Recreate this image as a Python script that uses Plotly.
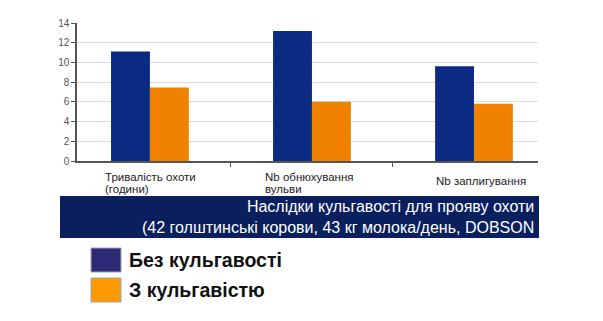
import plotly.graph_objects as go

categories = [["Тривалість охоти", "(години)"], ["Nb обнюхування", "вульви"], ["Nb заплигування"]]
cat_keys = ["c1", "c2", "c3"]
without_lameness = [11.1, 13.2, 9.6]
with_lameness = [7.45, 6.0, 5.8]
series_names = ["Без кульгавості", "З кульгавістю"]
banner_lines = ["Наслідки кульгавості для прояву охоти",
                "(42 голштинські корови, 43 кг молока/день, DOBSON"]
y_ticks = [0, 2, 4, 6, 8, 10, 12, 14]

bar_blue = "#0b2a82"
bar_orange = "#f08200"
leg_blue = "#2b2a74"
leg_orange = "#ff9900"

fig = go.Figure()
fig.add_trace(go.Bar(x=cat_keys, y=without_lameness, name=series_names[0],
                     marker=dict(color=bar_blue, line=dict(width=0))))
fig.add_trace(go.Bar(x=cat_keys, y=with_lameness, name=series_names[1],
                     marker=dict(color=bar_orange, line=dict(width=0))))

W, H = 603, 321
L, R, T, B = 77, 538, 23, 161

fig.update_layout(
    width=W, height=H,
    margin=dict(l=L, r=W - R, t=T, b=H - B),
    paper_bgcolor="white", plot_bgcolor="white",
    barmode="group", bargap=0.52, bargroupgap=0,
    showlegend=False,
    font=dict(family="Liberation Sans, Arial", color="#333"),
    xaxis=dict(showticklabels=False, showline=True, linecolor="#555", linewidth=1.5,
               range=[-0.45, 2.395],
               ticks="outside", tickson="boundaries", ticklen=4, tickcolor="#555",
               showgrid=False, zeroline=False),
    yaxis=dict(range=[0, 14], tickvals=y_ticks, showline=True, linecolor="#555",
               linewidth=1.5, ticks="outside", ticklen=4, tickcolor="#555",
               gridcolor="#dcdcdc", gridwidth=1, zeroline=False,
               tickfont=dict(size=10, color="#555")),
)

def px_x(v):
    return (v - L) / (R - L)

def px_y(v):
    return (B - v) / (B - T)

annotations = []
label_left_offsets = [-47, -49, -40]
label_top = [177, 177, 181]
for k, lines, off, top in zip(cat_keys, categories, label_left_offsets, label_top):
    for j, line in enumerate(lines):
        annotations.append(dict(x=k, xref="x", xshift=off, xanchor="left",
                                y=px_y(top + 11.5 * j), yref="paper", yanchor="middle",
                                text=line, showarrow=False,
                                font=dict(size=11.5, color="#222")))

shapes = []
# banner
shapes.append(dict(type="rect", xref="paper", yref="paper",
                   x0=px_x(60), x1=px_x(539), y0=px_y(238), y1=px_y(196),
                   fillcolor="#0a1f5e", line=dict(width=0), layer="above"))
annotations.append(dict(xref="paper", yref="paper", x=px_x(536), y=px_y(217),
                        xanchor="right", yanchor="middle", align="right",
                        text="<br>".join(banner_lines), showarrow=False,
                        font=dict(size=16, color="white")))

# legend
for i, (nm, col) in enumerate(zip(series_names, [leg_blue, leg_orange])):
    y0 = 248 + i * 30
    shapes.append(dict(type="rect", xref="paper", yref="paper",
                       x0=px_x(91), x1=px_x(121), y0=px_y(y0 + 24), y1=px_y(y0),
                       fillcolor=col, line=dict(color="#9aa8b8", width=1), layer="above"))
    annotations.append(dict(xref="paper", yref="paper", x=px_x(127), y=px_y(y0 + 12),
                            xanchor="left", yanchor="middle", text="<b>%s</b>" % nm,
                            showarrow=False, font=dict(size=19.5, color="#111")))

fig.update_layout(shapes=shapes, annotations=annotations)
fig.write_html("out.html")
